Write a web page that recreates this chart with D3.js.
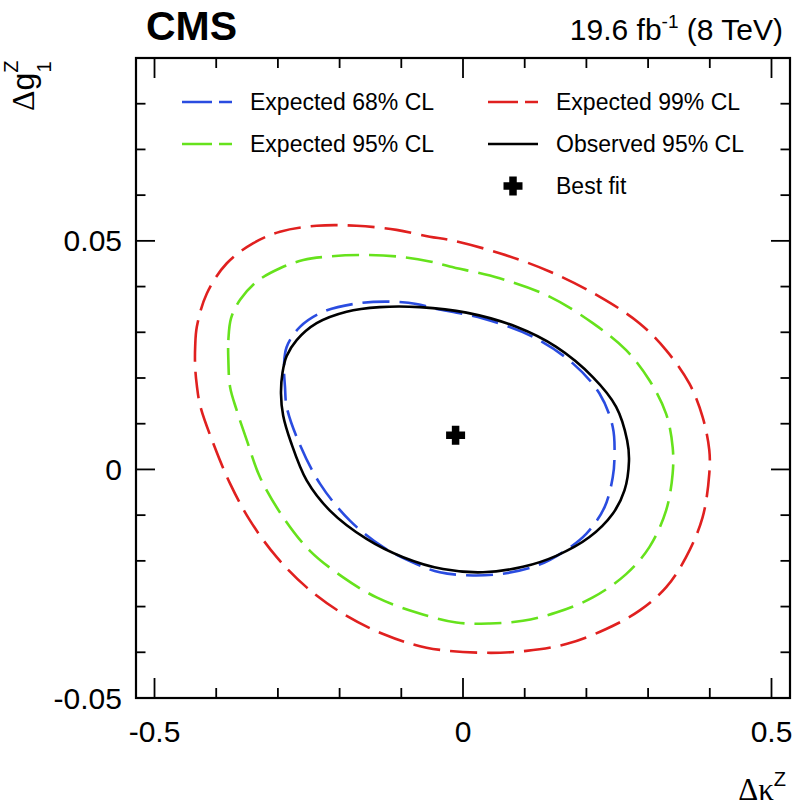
<!DOCTYPE html>
<html>
<head>
<meta charset="utf-8">
<script src="https://cdn.jsdelivr.net/npm/d3@7"></script>
<style>
  body { margin: 0; background: #fff; }
  svg { display: block; }
  text { font-family: "Liberation Sans", Arial, Helvetica, sans-serif; fill: #000; }
</style>
</head>
<body>
<svg id="chart" width="796" height="812"></svg>
<script>
// ---------------- data ----------------
const xDomain = [-0.53, 0.53];
const yDomain = [-0.05, 0.09];
const xMajorTicks = [-0.5, 0, 0.5];
const xTickLabels = ["-0.5", "0", "0.5"];
const yMajorTicks = [-0.05, 0, 0.05];
const yTickLabels = ["-0.05", "0", "0.05"];
const xMinorStep = 0.1;
const yMinorStep = 0.01;

const expected68 = [
  [-0.2885, 0.0180], [-0.2901, 0.0228], [-0.2858, 0.0268], [-0.2642, 0.0312],
  [-0.2265, 0.0345], [-0.1725, 0.0363], [-0.1186, 0.0367], [-0.0754, 0.0362],
  [-0.0490, 0.0353], [0.0324, 0.0330], [0.1133, 0.0290], [0.1780, 0.0232],
  [0.2212, 0.0166], [0.2427, 0.0093], [0.2455, 0.0027], [0.2427, -0.0017],
  [0.2293, -0.0083], [0.1997, -0.0141], [0.1618, -0.0181], [0.1241, -0.0208],
  [0.0702, -0.0227], [0.0162, -0.0232], [-0.0377, -0.0225], [-0.0754, -0.0207],
  [-0.1294, -0.0170], [-0.1833, -0.0112], [-0.2319, -0.0031], [-0.2675, 0.0064],
  [-0.2858, 0.0137]
];

const expected95 = [
  [-0.3803, 0.0239], [-0.3803, 0.0283], [-0.3759, 0.0331], [-0.3613, 0.0371],
  [-0.3343, 0.0411], [-0.2966, 0.0440], [-0.2589, 0.0458], [-0.2157, 0.0466],
  [-0.1618, 0.0469], [-0.1078, 0.0466], [-0.0539, 0.0455], [-0.0215, 0.0444],
  [0.0594, 0.0418], [0.1403, 0.0378], [0.2104, 0.0320], [0.2644, 0.0261],
  [0.3021, 0.0195], [0.3291, 0.0122], [0.3398, 0.0049], [0.3398, -0.0009],
  [0.3291, -0.0090], [0.3021, -0.0170], [0.2644, -0.0229], [0.2104, -0.0280],
  [0.1511, -0.0313], [0.0971, -0.0331], [0.0432, -0.0337], [-0.0107, -0.0335],
  [-0.0754, -0.0313], [-0.1401, -0.0280], [-0.1942, -0.0236], [-0.2481, -0.0178],
  [-0.2913, -0.0105], [-0.3290, -0.0017], [-0.3505, 0.0064], [-0.3667, 0.0129],
  [-0.3775, 0.0180]
];

const expected99 = [
  [-0.4341, 0.0224], [-0.4341, 0.0268], [-0.4314, 0.0312], [-0.4152, 0.0385],
  [-0.3828, 0.0451], [-0.3398, 0.0495], [-0.2966, 0.0520], [-0.2372, 0.0533],
  [-0.1725, 0.0533], [-0.1078, 0.0524], [-0.0539, 0.0509], [-0.0215, 0.0502],
  [0.0594, 0.0473], [0.1403, 0.0433], [0.2212, 0.0378], [0.2859, 0.0320],
  [0.3291, 0.0261], [0.3668, 0.0188], [0.3883, 0.0115], [0.3992, 0.0042],
  [0.3992, -0.0009], [0.3883, -0.0105], [0.3615, -0.0192], [0.3291, -0.0258],
  [0.2859, -0.0309], [0.2320, -0.0349], [0.1673, -0.0382], [0.1026, -0.0397],
  [0.0324, -0.0401], [-0.0592, -0.0390], [-0.1294, -0.0360], [-0.1942, -0.0316],
  [-0.2534, -0.0258], [-0.3019, -0.0192], [-0.3451, -0.0112], [-0.3775, -0.0031],
  [-0.4045, 0.0056], [-0.4261, 0.0140], [-0.4314, 0.0184]
];

const observed95 = [
  [-0.2950, 0.0166], [-0.2925, 0.0212], [-0.2858, 0.0248], [-0.2696, 0.0283],
  [-0.2372, 0.0320], [-0.1887, 0.0345], [-0.1348, 0.0355], [-0.0701, 0.0355],
  [0.0055, 0.0343], [0.0864, 0.0312], [0.1511, 0.0268], [0.2104, 0.0202],
  [0.2482, 0.0137], [0.2660, 0.0064], [0.2690, 0.0018], [0.2617, -0.0046],
  [0.2427, -0.0097], [0.2050, -0.0148], [0.1511, -0.0189], [0.0971, -0.0213],
  [0.0324, -0.0225], [-0.0324, -0.0218], [-0.0971, -0.0192], [-0.1563, -0.0152],
  [-0.2157, -0.0090], [-0.2534, -0.0024], [-0.2790, 0.0060], [-0.2915, 0.0118]
];

const bestFit = [-0.012, 0.0075];

const legendLabels = ["Expected 68% CL", "Expected 95% CL", "Expected 99% CL", "Observed 95% CL", "Best fit"];

// ---------------- layout & styles ----------------
const svg = d3.select("#chart");
const frame = { left: 136, right: 790, top: 58, bottom: 698 };
const x = d3.scaleLinear().domain(xDomain).range([frame.left, frame.right]);
const y = d3.scaleLinear().domain(yDomain).range([frame.bottom, frame.top]);

const colBlue = "#2a4ce0", colGreen = "#66e21c", colRed = "#e0201f";
const dash = "27 10";

// contours
const line = d3.line().x(d => x(d[0])).y(d => y(d[1])).curve(d3.curveCatmullRomClosed.alpha(0.5));
const contours = [
  { data: expected99, color: colRed, dash: dash },
  { data: expected95, color: colGreen, dash: dash },
  { data: expected68, color: colBlue, dash: dash },
  { data: observed95, color: "#000", dash: null }
];
svg.append("g").selectAll("path").data(contours).join("path")
  .attr("d", d => line(d.data))
  .attr("fill", "none")
  .attr("stroke", d => d.color)
  .attr("stroke-width", 2.6)
  .attr("stroke-dasharray", d => d.dash);

// best fit cross
function crossPath(cx, cy, span, w) {
  const h = span / 2, t = w / 2;
  return `M${cx - t},${cy - h}H${cx + t}V${cy - t}H${cx + h}V${cy + t}H${cx + t}V${cy + h}H${cx - t}V${cy + t}H${cx - h}V${cy - t}H${cx - t}Z`;
}
svg.append("path").attr("d", crossPath(x(bestFit[0]), y(bestFit[1]), 19, 7.5)).attr("fill", "#000");

// frame
svg.append("rect")
  .attr("x", frame.left).attr("y", frame.top)
  .attr("width", frame.right - frame.left).attr("height", frame.bottom - frame.top)
  .attr("fill", "none").attr("stroke", "#000").attr("stroke-width", 2.2);

// ticks (inward, all four sides)
const xMinor = d3.range(Math.ceil(xDomain[0] / xMinorStep), Math.floor(xDomain[1] / xMinorStep) + 1).map(i => +(i * xMinorStep).toFixed(4));
const yMinor = d3.range(Math.ceil(yDomain[0] / yMinorStep), Math.floor(yDomain[1] / yMinorStep) + 1).map(i => +(i * yMinorStep).toFixed(4));
const isMajor = (v, arr) => arr.some(m => Math.abs(m - v) < 1e-6);
const tg = svg.append("g").attr("stroke", "#000").attr("stroke-width", 1.8);
xMinor.forEach(v => {
  const L = isMajor(v, xMajorTicks) ? 20 : 10;
  tg.append("line").attr("x1", x(v)).attr("x2", x(v)).attr("y1", frame.bottom).attr("y2", frame.bottom - L);
  tg.append("line").attr("x1", x(v)).attr("x2", x(v)).attr("y1", frame.top).attr("y2", frame.top + L);
});
yMinor.forEach(v => {
  const L = isMajor(v, yMajorTicks) ? 19 : 9.5;
  tg.append("line").attr("y1", y(v)).attr("y2", y(v)).attr("x1", frame.left).attr("x2", frame.left + L);
  tg.append("line").attr("y1", y(v)).attr("y2", y(v)).attr("x1", frame.right).attr("x2", frame.right - L);
});

// tick labels
svg.append("g").selectAll("text").data(xMajorTicks).join("text")
  .attr("x", d => x(d)).attr("y", 742)
  .attr("text-anchor", "middle").attr("font-size", 30)
  .text((d, i) => xTickLabels[i]);
svg.append("g").selectAll("text").data(yMajorTicks).join("text")
  .attr("x", 122).attr("y", d => y(d) + 10.5)
  .attr("text-anchor", "end").attr("font-size", 30)
  .text((d, i) => yTickLabels[i]);

// header
svg.append("text").attr("x", 146).attr("y", 40).attr("font-size", 41).attr("font-weight", "bold").text("CMS");
const lumi = svg.append("text").attr("x", 783).attr("y", 40).attr("text-anchor", "end").attr("font-size", 30);
lumi.append("tspan").text("19.6 fb");
lumi.append("tspan").attr("font-size", 19).attr("dy", -12).text("-1");
lumi.append("tspan").attr("dy", 12).text(" (8 TeV)");

// x axis title
const xt = svg.append("text").attr("x", 786).attr("y", 800).attr("text-anchor", "end").attr("font-size", 31);
xt.append("tspan").attr("font-family", "Liberation Serif, Times New Roman, serif").text("Δκ");
xt.append("tspan").attr("font-size", 20).attr("dy", -14).text("Z");

// y axis title
const yt = svg.append("text").attr("transform", "translate(34,111) rotate(-90)").attr("font-size", 32);
yt.append("tspan").attr("font-family", "Liberation Serif, Times New Roman, serif").text("Δ");
yt.append("tspan").text("g");
yt.append("tspan").attr("font-size", 20).attr("dy", -16).text("Z");
yt.append("tspan").attr("font-size", 20).attr("dx", -12).attr("dy", 33).text("1");

// legend
const legend = [
  { label: legendLabels[0], type: "line", color: colBlue, dash: "30 7", lx: 182, ty: 102, tx: 250 },
  { label: legendLabels[1], type: "line", color: colGreen, dash: "30 7", lx: 182, ty: 144, tx: 250 },
  { label: legendLabels[2], type: "line", color: colRed, dash: "30 7", lx: 488, ty: 102, tx: 556 },
  { label: legendLabels[3], type: "line", color: "#000", dash: null, lx: 488, ty: 144, tx: 556 },
  { label: legendLabels[4], type: "cross", color: "#000", dash: null, lx: 488, ty: 186, tx: 556 }
];
const lg = svg.append("g");
legend.forEach(e => {
  if (e.type === "line") {
    lg.append("line").attr("x1", e.lx).attr("x2", e.lx + 50).attr("y1", e.ty).attr("y2", e.ty)
      .attr("stroke", e.color).attr("stroke-width", 2.6).attr("stroke-dasharray", e.dash);
  } else {
    lg.append("path").attr("d", crossPath(e.lx + 25, e.ty, 19, 7.5)).attr("fill", "#000");
  }
  lg.append("text").attr("x", e.tx).attr("y", e.ty + 8).attr("font-size", 23).text(e.label);
});
</script>
</body>
</html>
